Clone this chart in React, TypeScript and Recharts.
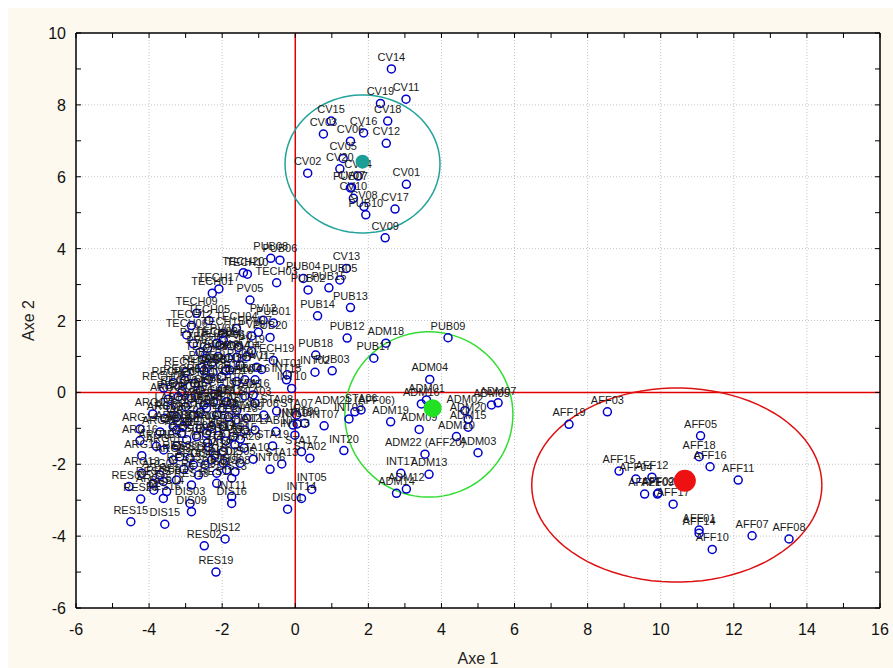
import React from 'react';
import { ScatterChart, Scatter, XAxis, YAxis, ReferenceLine, CartesianGrid } from 'recharts';

type P = [string, number, number];

const CV_POINTS: P[] = [
  ['CV14', 2.63, 9.0], ['CV11', 3.03, 8.16], ['CV19', 2.33, 8.04], ['CV18', 2.53, 7.55],
  ['CV15', 0.98, 7.55], ['CV03', 0.77, 7.19], ['CV16', 1.87, 7.22], ['CV06', 1.51, 6.99],
  ['CV12', 2.49, 6.93], ['CV05', 1.31, 6.51], ['CV20', 1.22, 6.22], ['CV02', 0.34, 6.1],
  ['CV04', 1.72, 6.02], ['CV07', 1.54, 5.71], ['CV10', 1.59, 5.4], ['CV08', 1.88, 5.17],
  ['CV17', 2.73, 5.1], ['CV01', 3.04, 5.79], ['CV09', 2.46, 4.3], ['CV13', 1.4, 3.45],
];

const PUB_POINTS: P[] = [
  ['PUB07', 1.51, 5.69], ['PUB10', 1.93, 4.94], ['PUB08', -0.67, 3.73], ['PUB06', -0.42, 3.68],
  ['PUB04', 0.22, 3.17], ['PUB02', 0.35, 2.85], ['PUB05', 1.22, 3.13], ['PUB15', 0.92, 2.91],
  ['PUB13', 1.51, 2.36], ['PUB14', 0.61, 2.13], ['PUB12', 1.42, 1.51], ['PUB18', 0.56, 1.04],
  ['PUB17', 2.15, 0.95], ['PUB03', 1.01, 0.6], ['PUB09', 4.18, 1.52], ['PUB01', -0.6, 1.93],
  ['PUB20', -0.69, 1.53],
];

const TECH_PV_POINTS: P[] = [
  ['TECH20', -1.42, 3.33], ['TECH10', -1.31, 3.29], ['TECH03', -0.51, 3.05], ['TECH17', -2.09, 2.88],
  ['TECH01', -2.27, 2.76], ['PV05', -1.24, 2.57], ['TECH09', -2.7, 2.2], ['TECH05', -2.36, 2.0],
  ['TECH12', -2.84, 1.86], ['TECH04', -1.61, 1.78], ['PV12', -0.88, 2.01], ['PV07', -1.01, 1.67],
  ['PV20', -1.19, 1.57], ['TECH06', -2.97, 1.6], ['PV13', -2.79, 1.35], ['TECH15', -1.99, 1.64],
  ['PV01', -1.97, 1.46], ['TECH14', -2.06, 1.32], ['TECH07', -2.4, 1.23], ['TECH02', -2.15, 1.37],
  ['PV03', -2.61, 1.12], ['TECH13', -2.11, 1.0], ['PV09', -1.83, 0.95], ['PV14', -1.6, 0.98],
  ['TECH19', -0.6, 0.89], ['TECH18', -2.43, 0.95], ['PV16', -2.29, 0.81], ['PV04', -1.33, 0.99],
  ['PV11', -1.06, 0.7], ['PV17', -0.92, 0.64], ['TECH11', -2.01, 0.44], ['PV18', -1.79, 0.62],
  ['PV02', -1.51, 0.76], ['PV08', -2.25, 0.56], ['PV06', -1.75, 1.3], ['PV10', -1.55, 1.25],
  ['PV15', -2.55, 0.7], ['PV19', -1.2, 1.15],
];

const RECH_LAB_POINTS: P[] = [
  ['RECH20', -3.34, 0.27], ['RECH03', -3.02, 0.33], ['RECH11', -2.75, 0.25], ['RECH05', -2.38, 0.35],
  ['LAB16', -1.6, 0.3], ['LAB04', -1.38, 0.35], ['RECH02', -3.6, 0.12], ['RECH04', -3.1, 0.02],
  ['RECH08', -2.6, 0.05], ['RECH10', -2.0, 0.1], ['RECH12', -1.9, 0.6], ['RECH15', -2.5, 0.6],
  ['RECH17', -3.0, 0.55], ['RECH19', -2.2, -0.05], ['ARG05', -3.48, -0.19], ['RECH14', -3.2, -0.12],
  ['RECH01', -2.84, -0.16], ['ARG08', -2.5, -0.35], ['RECH09', -2.24, -0.26], ['LAB12', -1.88, -0.26],
  ['RECH07', -3.25, -0.68], ['RECH16', -2.79, -0.63], ['LAB05', -2.43, -0.44], ['RECH18', -2.15, -0.63],
  ['LAB07', -1.83, -0.68], ['RECH13', -1.62, -0.77], ['LAB03', -3.25, -1.05], ['RECH06', -2.43, -1.14],
  ['LAB09', -1.97, -0.95], ['LAB10', -0.53, -1.09], ['LAB01', -2.6, -0.55], ['LAB02', -2.0, -0.45],
  ['LAB06', -3.0, -0.4], ['LAB08', -1.6, -0.5], ['LAB11', -2.4, -1.4], ['LAB13', -3.4, -0.45],
  ['LAB14', -2.1, -1.2], ['LAB15', -1.5, -1.3],
];

const ARG_RES_DIS_POINTS: P[] = [
  ['ARG14', -4.25, -1.02], ['ARG16', -4.25, -1.34], ['ARG11', -4.2, -1.76], ['ARG13', -4.2, -2.25],
  ['ARG02', -3.57, -0.72], ['ARG09', -2.97, -0.82], ['ARG07', -3.07, -0.95], ['ARG12', -2.29, -0.95],
  ['ARG18', -3.34, -0.95], ['ARG03', -3.34, -1.88], ['ARG04', -2.79, -2.02], ['ARG06', -3.7, -2.3],
  ['ARG10', -3.8, -1.5], ['ARG17', -3.9, -0.6], ['ARG20', -3.7, -1.1], ['ARG15', -3.87, -2.72],
  ['ARG01', -3.6, -1.6], ['RES04', -2.7, -1.23], ['RES09', -3.11, -1.14], ['RES07', -2.97, -1.32],
  ['RES17', -3.25, -1.49], ['RES08', -3.16, -1.79], ['RES12', -2.88, -1.83], ['RES13', -3.05, -2.14],
  ['RES03', -2.65, -2.3], ['RES05', -3.89, -2.53], ['RES06', -3.61, -2.48], ['RES10', -3.25, -2.44],
  ['RES18', -2.84, -2.58], ['RES01', -4.55, -2.62], ['RES20', -4.23, -2.97], ['RES15', -4.5, -3.6],
  ['RES16', -3.61, -2.95], ['RES14', -3.52, -2.76], ['RES11', -2.15, -2.53], ['RES02', -2.49, -4.27],
  ['RES19', -2.17, -5.0], ['DIS15', -3.57, -3.67], ['DIS09', -2.84, -3.32], ['DIS03', -2.88, -3.09],
  ['DIS14', -2.38, -1.53], ['DIS07', -1.97, -1.65], ['DIS04', -2.47, -2.02], ['DIS10', -2.29, -1.88],
  ['DIS02', -1.97, -1.97], ['DIS06', -1.88, -2.16], ['DIS08', -1.65, -2.21], ['DIS11', -2.15, -2.25],
  ['DIS13', -1.74, -2.39], ['DIS05', -1.51, -1.97], ['DIS16', -1.74, -3.09], ['DIS12', -1.92, -4.08],
  ['DIS01', -0.21, -3.25],
];

const STA_INT_POINTS: P[] = [
  ['STA14', -1.74, -0.3], ['STA05', -1.38, -0.1], ['STA16', -1.15, -0.07], ['STA03', -1.1, -0.3],
  ['STA08', -0.51, -0.52], ['STA09', -1.33, -0.72], ['STA11', -1.7, -1.23], ['STA12', -1.38, -1.05],
  ['STA07', 0.04, -0.63], ['STA04', -1.65, -1.46], ['STA10', -1.15, -1.86], ['STA19', -0.62, -1.49],
  ['STA13', -0.37, -1.99], ['STA17', 0.17, -1.65], ['STA02', 0.4, -1.83], ['STA01', -2.6, -1.0],
  ['STA15', -1.9, -1.35], ['STA18', -2.2, -1.75], ['STA20', -1.4, -1.55], ['STA06', 1.8, -0.49],
  ['INT16', -1.1, 0.35], ['INT01', -0.22, 0.49], ['INT15', -0.24, 0.35], ['INT10', -0.1, 0.11],
  ['INT02', 0.54, 0.56], ['INT12', -1.1, -1.05], ['INT19', -0.06, -0.91], ['INT09', 0.26, -0.86],
  ['INT18', 0.05, -0.88], ['INT07', 0.79, -0.93], ['INT13', -0.01, -1.19], ['INT08', -0.86, -0.63],
  ['INT06', -0.69, -2.14], ['INT20', 1.33, -1.62], ['INT11', -1.74, -2.9], ['INT05', 0.45, -2.7],
  ['INT14', 0.17, -2.95], ['INT03', 1.47, -0.74], ['INT17', 2.89, -2.25],
];

const ADM_POINTS: P[] = [
  ['ADM18', 2.48, 1.37], ['ADM04', 3.68, 0.36], ['ADM05', 5.37, -0.35], ['ADM07', 5.55, -0.29],
  ['ADM02', 4.64, -0.51], ['ADM20', 4.73, -0.75], ['ADM15', 4.73, -0.97], ['ADM10', 4.41, -1.23],
  ['ADM03', 5.0, -1.68], ['ADM01', 3.59, -0.21], ['ADM16', 3.45, -0.32], ['ADM09', 3.39, -1.03],
  ['ADM19', 2.61, -0.82], ['ADM22 (AFF20)', 3.55, -1.72], ['ADM13', 3.66, -2.28], ['ADM12', 3.04, -2.69],
  ['ADM14', 2.77, -2.81], ['ADM21 (AFF06)', 1.63, -0.54],
];

const AFF_POINTS: P[] = [
  ['AFF19', 7.49, -0.89], ['AFF03', 8.54, -0.54], ['AFF05', 11.09, -1.21], ['AFF18', 11.05, -1.79],
  ['AFF16', 11.35, -2.07], ['AFF11', 12.12, -2.44], ['AFF15', 8.86, -2.19], ['AFF04', 9.32, -2.41],
  ['AFF12', 9.76, -2.36], ['AFF21', 9.56, -2.83], ['AFF09', 9.91, -2.83], ['AFF02', 9.93, -2.8],
  ['AFF17', 10.34, -3.11], ['AFF01', 11.05, -3.83], ['AFF14', 11.05, -3.92], ['AFF10', 11.41, -4.37],
  ['AFF07', 12.5, -3.99], ['AFF08', 13.51, -4.08],
];

// centroids: [name, x, y, color, radius]
const CENTROIDS: [string, number, number, string, number][] = [
  ['CV', 1.84, 6.42, '#1a9e96', 7],
  ['ADM', 3.76, -0.44, '#22e022', 9],
  ['AFF', 10.66, -2.46, '#ee1111', 11],
];

// ellipses: [centerX, centerY, radiusX, radiusY, color]
const ELLIPSES: [number, number, number, number, string][] = [
  [1.84, 6.355, 2.12, 1.92, '#22a39a'],
  [3.655, -0.615, 2.3, 2.3, '#33dd33'],
  [10.44, -2.58, 3.97, 2.7, '#dd1111'],
];

const X_TICKS = [-6, -5, -4, -3, -2, -1, 0, 1, 2, 3, 4, 5, 6, 7, 8, 9, 10, 11, 12, 13, 14, 15, 16];
const Y_TICKS = [-6, -5, -4, -3, -2, -1, 0, 1, 2, 3, 4, 5, 6, 7, 8, 9, 10];
const X_GRID = [-4, -2, 2, 4, 6, 8, 10, 12, 14];
const Y_GRID = [-4, -2, 2, 4, 6, 8];

const PAGE_W = 893;
const PAGE_H = 668;
const INSET = 8;
const CHART_W = PAGE_W - INSET;
const CHART_H = PAGE_H - INSET;
const M_TOP = 25;
const M_RIGHT = 13;
const Y_AXIS_W = 68;
const X_AXIS_H = 60;
const PLOT_LEFT = Y_AXIS_W;
const PLOT_RIGHT = CHART_W - M_RIGHT;
const PLOT_TOP = M_TOP;
const PLOT_BOTTOM = CHART_H - X_AXIS_H;
const FONT = '"Liberation Sans", Arial, sans-serif';

const toRows = (arr: P[]) => arr.map(([name, x, y]) => ({ name, x, y }));
const ALL_POINTS = [
  ...toRows(CV_POINTS), ...toRows(PUB_POINTS), ...toRows(TECH_PV_POINTS), ...toRows(RECH_LAB_POINTS),
  ...toRows(ARG_RES_DIS_POINTS), ...toRows(STA_INT_POINTS), ...toRows(ADM_POINTS), ...toRows(AFF_POINTS),
];

const ellipseOutline = (e: [number, number, number, number, string]) => {
  const [cx, cy, rx, ry] = e;
  const pts: { x: number; y: number }[] = [];
  const n = 90;
  for (let i = 0; i <= n; i++) {
    const t = (i / n) * 2 * Math.PI;
    pts.push({ x: cx + rx * Math.cos(t), y: cy + ry * Math.sin(t) });
  }
  return pts;
};

const XTick = (props: any) => {
  const { x, payload } = props;
  const v = payload.value;
  return (
    <g>
      <line x1={x} y1={PLOT_BOTTOM} x2={x} y2={PLOT_BOTTOM - 5} stroke="#000" strokeWidth={1} />
      <line x1={x} y1={PLOT_TOP} x2={x} y2={PLOT_TOP + 5} stroke="#000" strokeWidth={1} />
      {v % 2 === 0 && (
        <text x={x} y={PLOT_BOTTOM + 27} textAnchor="middle" fontSize={16} fill="#111" fontFamily={FONT}>
          {v}
        </text>
      )}
    </g>
  );
};

const YTick = (props: any) => {
  const { y, payload } = props;
  const v = payload.value;
  return (
    <g>
      <line x1={PLOT_LEFT} y1={y} x2={PLOT_LEFT + 5} y2={y} stroke="#000" strokeWidth={1} />
      <line x1={PLOT_RIGHT} y1={y} x2={PLOT_RIGHT - 5} y2={y} stroke="#000" strokeWidth={1} />
      {v % 2 === 0 && (
        <text x={PLOT_LEFT - 10} y={y + 6} textAnchor="end" fontSize={16} fill="#111" fontFamily={FONT}>
          {v}
        </text>
      )}
    </g>
  );
};

const PointCircle = (props: any) => {
  const { cx, cy } = props;
  return <circle cx={cx} cy={cy} r={4} fill="none" stroke="#0000cc" strokeWidth={1.5} />;
};

const PointLabel = (props: any) => {
  const { cx, cy, payload } = props;
  return (
    <text x={cx} y={cy - 8} textAnchor="middle" fontSize={11} fill="#1a1a1a" fontFamily={FONT}>
      {payload.name}
    </text>
  );
};

const Nothing = () => <g />;

export default function App() {
  return (
    <div style={{ position: 'fixed', left: 0, top: 0, width: PAGE_W, height: PAGE_H, background: '#ffffff', overflow: 'hidden' }}>
      <style>{'html,body{margin:0;padding:0;overflow:hidden;}'}</style>
      <div style={{ position: 'absolute', left: INSET, top: INSET, width: CHART_W, height: CHART_H, background: '#fdf9ee' }}>
        <ScatterChart
          width={CHART_W}
          height={CHART_H}
          margin={{ top: M_TOP, right: M_RIGHT, bottom: 0, left: 0 }}
        >
          <CartesianGrid horizontal={false} vertical={false} fill="#ffffff" fillOpacity={1} />
          <XAxis
            type="number"
            dataKey="x"
            domain={[-6, 16]}
            ticks={X_TICKS}
            interval={0}
            allowDataOverflow
            height={X_AXIS_H}
            tickLine={false}
            axisLine={{ stroke: '#000', strokeWidth: 1.5 }}
            tick={<XTick />}
            label={{ value: 'Axe 1', position: 'insideBottom', offset: 4, fontSize: 16, fill: '#222', fontFamily: FONT }}
          />
          <YAxis
            type="number"
            dataKey="y"
            domain={[-6, 10]}
            ticks={Y_TICKS}
            interval={0}
            allowDataOverflow
            width={Y_AXIS_W}
            tickLine={false}
            axisLine={{ stroke: '#000', strokeWidth: 1.5 }}
            tick={<YTick />}
            label={{
              value: 'Axe 2', angle: -90, position: 'insideLeft', offset: 20, fontSize: 16, fill: '#222',
              fontFamily: FONT, style: { textAnchor: 'middle' },
            }}
          />
          {X_GRID.map((v) => (
            <ReferenceLine key={'gx' + v} x={v} stroke="#c4c4c4" strokeDasharray="1 2" />
          ))}
          {Y_GRID.map((v) => (
            <ReferenceLine key={'gy' + v} y={v} stroke="#c4c4c4" strokeDasharray="1 2" />
          ))}
          <ReferenceLine x={16} stroke="#000" strokeWidth={1.5} />
          <ReferenceLine y={10} stroke="#000" strokeWidth={1.5} />
          <ReferenceLine x={0} stroke="#e00000" strokeWidth={1.5} />
          <ReferenceLine y={0} stroke="#e00000" strokeWidth={1.5} />
          {ELLIPSES.map((e, i) => (
            <Scatter
              key={'el' + i}
              data={ellipseOutline(e)}
              fill={e[4]}
              line={{ stroke: e[4], strokeWidth: 1.5 }}
              shape={<Nothing />}
              isAnimationActive={false}
            />
          ))}
          <Scatter data={ALL_POINTS} shape={<PointCircle />} isAnimationActive={false} />
          <Scatter data={ALL_POINTS} shape={<PointLabel />} isAnimationActive={false} />
          {CENTROIDS.map((c) => (
            <Scatter
              key={'c' + c[0]}
              data={[{ x: c[1], y: c[2] }]}
              shape={(p: any) => <circle cx={p.cx} cy={p.cy} r={c[4]} fill={c[3]} />}
              isAnimationActive={false}
            />
          ))}
        </ScatterChart>
      </div>
    </div>
  );
}
